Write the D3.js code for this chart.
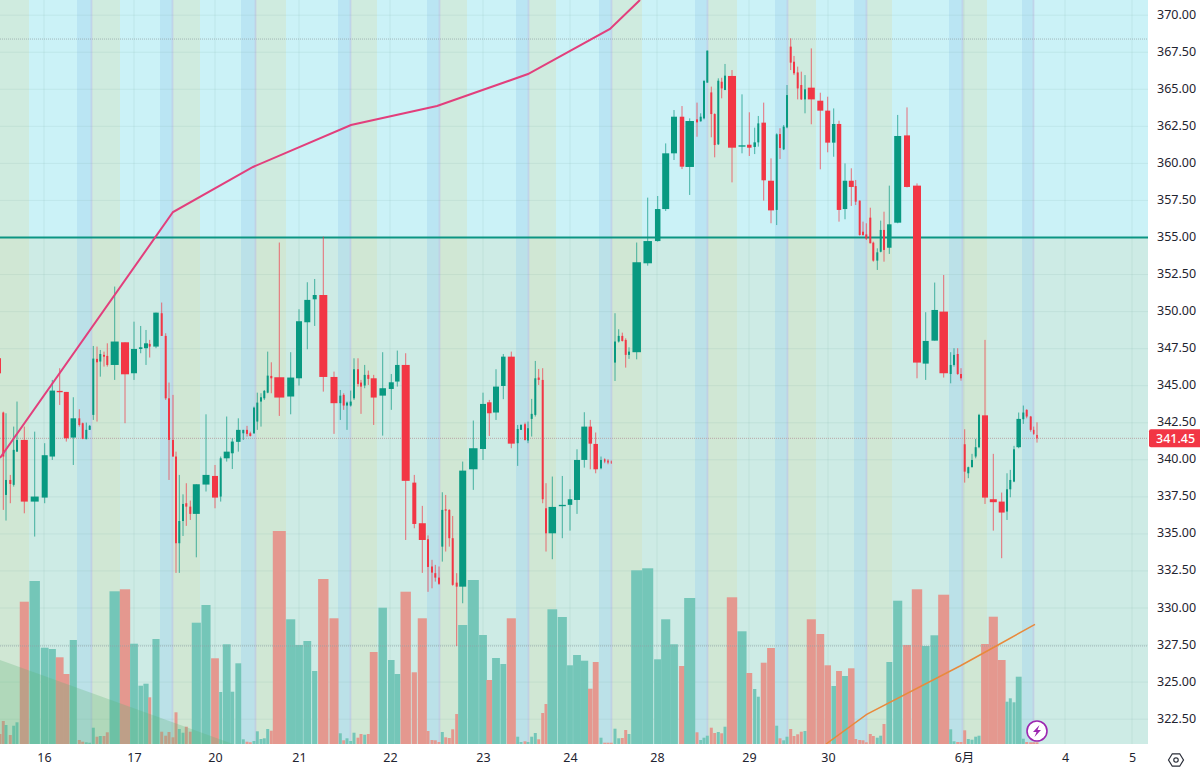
<!DOCTYPE html>
<html><head><meta charset="utf-8">
<script src="https://cdnjs.cloudflare.com/ajax/libs/d3/7.8.5/d3.min.js"></script>
<style>html,body{margin:0;padding:0;background:#fff}svg{display:block}text{font-family:"Noto Sans","Noto Sans CJK SC",sans-serif}</style>
</head><body><div id="c"></div>
<script>
// bar time position on the (non-uniform) session axis
const centres=[0,3.3,6,10.3,13.7,17,24.3,34.7,44.7,52.3,
59.7,66.3,73.3,79.3,82.7,86.3,89.7,93.3,97,100.3,
104,107.3,114.7,125,134,140.7,146,149.7,156,161.7,
165.7,169,173,176,179.3,183,186.3,190.3,196.3,206,
215,220.7,226.7,232.3,238.3,243.3,247,250.3,254,257.3,
261,264.3,267.7,271.3,279.3,290.7,299,307.3,314.7,323.3,
334,340.3,343.7,347,350.7,354,358,361,364.7,368.3,
373.7,382.7,391.3,397.3,405.7,414.3,422.3,428,432,435.3,
439,442.3,445.7,449.3,452.7,456.7,462.7,473.3,483,489.3,
496,503.3,511.3,517.7,521,525,528,531.7,535.3,538.7,
542.7,546,552.3,562.3,570,577,584.3,590.3,595.7,601,
604.7,608,611.3,615,618.7,622.3,625.7,629,636.7,647.7,
657.7,665.7,674,682,689.7,697,700.7,704,707.3,711.3,
714.7,718.3,721.7,725,732,742,749.3,754.7,758.3,763.7,
771,776.7,780,783.7,787,790.7,794,797.7,801.3,805,
811.3,820.3,827.7,833.7,839,845,851.3,855.7,859.7,863,
866.3,870.3,873.3,877.3,880.7,884,889.3,897.7,907,917,
925.7,934.7,943.7,950.7,954,957.7,961,964.7,968.3,972,
975.7,979,985,993.3,1001.7,1007,1010.3,1014,1018.7,1023.3,
1026.7,1030.7,1033.7,1037];
const spans=[2,2,2,2,2,2,7,8,6,5.5,
6,5,5.5,2,2,2,2,2,2,2,
2,2,8,8,6,3.5,4,2,5.5,2,
2,2,2,2,2,2,2,2,7,7,
6,2,6,3,4.5,2,2,2,2,2,
2,2,2,2,10,7,6,6,4,8,
7,2,2,2,2,2,2,2,2,2,
6,6.5,5,4.5,8,4,7,2,2,2,
2,2,2,2,2,2,7,8.5,6,4.5,
6,4.5,7,2,2,2,2,2,2,2,
2,2,7.5,7,4.5,6,6,3.5,4.5,2,
1.5,1.5,1,2,2,2,2,2,8.5,8.5,
5.5,7,6,4.5,8.5,2,2,2,2,2,
2,2,2,2,8,7,4.5,2.5,2,4.5,
6,2,2,2,2,2,2,2,2,2,
7,6,5,3.5,4.5,4.5,5,2,2,2,
2,2,2,2,2,2,4.5,7,6,8,
6,6.5,8.5,2,2,2,2,2,2,2,
2,2,6,7,6,2,2,2,4.5,2,
2,2,1.5,1.5];
const direction="dduduuduuu"+"ddudduuudu"+"dduduuudud"+"dddduudduu"+"duuuuudduu"+"uuudduuuud"+"duduuuddud"+"duuudddddd"+"dudddduuud"+"uuduuduuud"+"dduuuuuddu"+"ddduudduuu"+"uuududuuud"+"dudududuud"+"duduuddddu"+"dddududddd"+"ddduuduudd"+"uuduuddduu"+"uuddduuuuu"+"dddd";
const bodyTops=[346.85,343.19,338.64,338.64,340.67,341.34,341.34,337.52,340.31,344.67,
344.65,344.58,342.80,342.80,342.47,342.02,342.29,346.83,346.81,347.14,
347.08,347.01,347.98,347.93,347.48,347.59,347.86,347.82,349.93,349.89,
348.36,344.15,341.34,340.22,335.87,337.02,337.07,336.84,338.35,338.98,
338.91,340.10,340.55,341.23,342.02,342.02,342.02,341.79,343.52,343.86,
344.22,344.65,345.68,345.66,345.57,345.55,349.35,350.79,351.12,351.12,
345.59,344.33,344.38,343.86,343.93,346.11,346.11,345.21,345.73,345.73,
345.50,344.83,345.23,346.40,346.40,338.46,335.72,334.64,332.80,332.35,
332.05,336.62,336.66,336.62,334.71,331.71,339.27,340.78,343.77,343.88,
344.94,346.96,346.96,342.08,342.35,342.40,342.13,343.10,345.50,345.55,
345.39,336.73,336.82,336.96,337.34,339.99,342.24,342.24,341.07,339.99,
340.04,339.95,339.88,347.98,348.36,348.36,348.09,347.30,353.33,354.76,
356.92,360.68,363.15,363.15,362.86,362.97,363.15,365.56,367.61,364.79,
363.33,365.58,365.51,365.92,365.90,361.22,361.26,361.42,362.70,362.75,
358.83,361.96,361.98,362.48,364.61,367.88,366.86,366.14,365.29,365.00,
365.11,364.23,363.56,362.66,362.66,358.83,358.83,358.47,357.49,355.39,
355.21,356.34,354.65,354.00,355.51,355.51,355.89,361.85,361.89,358.50,
348.02,350.11,350.00,346.40,347.08,347.14,345.79,341.05,339.50,339.99,
340.85,343.03,343.00,337.34,337.18,338.01,338.64,340.71,342.76,343.19,
343.37,342.92,342.02,341.68];
const bodyBottoms=[345.84,340.22,337.63,338.37,338.31,340.55,337.18,337.18,337.45,340.22,
344.56,341.45,341.50,342.35,341.41,341.39,342.02,343.03,346.58,346.63,
346.96,346.40,346.40,345.77,345.84,347.48,347.53,347.64,347.64,348.36,
344.15,341.34,340.22,334.37,334.37,335.87,336.84,336.35,336.35,338.33,
337.45,337.52,340.10,340.44,341.21,341.79,341.75,341.61,341.79,342.58,
343.93,344.15,344.53,345.50,344.20,344.27,345.50,349.28,350.83,345.59,
343.82,343.82,343.66,343.66,343.66,344.15,345.12,344.94,345.01,345.46,
344.20,344.33,344.78,345.28,338.58,335.67,334.59,332.77,332.39,332.05,
331.63,334.14,336.57,334.71,331.56,331.44,331.44,339.36,340.73,343.14,
343.19,344.98,341.09,341.12,342.02,341.34,341.30,342.76,343.03,345.39,
337.34,335.04,335.04,336.87,336.96,337.29,339.99,341.09,339.36,339.43,
339.88,339.81,339.81,346.56,347.98,348.02,347.08,347.08,347.26,353.26,
354.76,356.92,360.68,359.78,359.76,362.77,362.84,363.04,365.45,363.33,
361.24,361.29,365.06,364.95,361.06,361.13,361.06,361.11,361.42,358.86,
356.83,356.86,361.04,360.95,362.43,366.80,366.08,365.06,364.32,364.32,
364.32,363.56,361.40,361.40,356.86,356.92,358.41,357.42,355.17,355.17,
354.94,354.61,353.44,353.44,354.04,354.16,354.31,356.00,358.41,346.56,
346.49,348.04,345.84,345.79,346.40,345.79,345.50,339.20,339.09,339.50,
340.22,340.85,337.45,337.14,336.44,336.51,338.01,338.53,340.85,342.74,
342.92,342.02,341.75,341.45];
const highs=[346.85,343.25,343.14,338.98,342.24,343.93,342.24,341.90,341.12,345.39,
346.18,344.58,344.22,343.41,342.51,342.51,342.35,347.68,347.64,347.41,
347.30,347.86,351.69,347.93,349.32,349.03,348.76,348.09,349.93,350.61,
348.54,345.21,344.38,340.55,338.98,337.67,338.42,337.25,338.35,343.07,
339.65,340.22,342.92,341.45,342.80,342.02,342.29,341.90,343.59,344.53,
344.49,344.71,347.30,346.58,354.66,347.26,350.16,351.98,352.20,355.06,
345.95,344.71,344.49,343.93,344.67,346.85,346.85,345.39,346.40,346.02,
345.73,347.26,345.79,347.37,347.19,338.98,336.89,334.90,333.25,332.91,
332.80,337.81,337.63,336.66,336.21,332.35,339.88,342.65,344.53,344.04,
346.11,347.14,347.30,342.35,342.40,342.51,342.58,344.11,346.67,346.13,
346.18,338.42,338.87,338.91,338.01,340.71,343.21,342.69,341.84,340.22,
340.10,340.04,339.95,349.89,348.81,348.58,348.20,347.59,354.66,357.69,
357.80,361.35,363.60,363.87,363.04,364.10,363.38,365.63,367.61,365.18,
363.38,365.74,365.78,366.71,366.30,364.66,363.45,362.41,363.20,364.10,
360.34,362.03,362.37,362.59,365.29,368.44,367.25,366.53,366.19,365.96,
367.76,364.77,364.50,363.71,362.88,360.00,359.67,358.88,357.49,356.07,
355.96,357.01,354.72,354.27,356.14,356.74,358.50,363.27,363.78,358.65,
349.96,351.96,352.47,347.26,347.53,347.53,346.18,342.06,339.54,340.40,
341.41,343.10,348.09,340.40,337.79,339.09,339.32,340.94,343.19,343.66,
343.41,342.96,342.24,342.53];
const lows=[345.84,336.62,335.90,337.07,338.19,340.55,336.39,334.82,337.07,339.99,
343.70,341.23,339.65,342.24,341.39,341.39,342.02,342.69,342.58,345.61,
346.29,346.29,345.39,342.47,345.39,347.19,346.40,346.90,347.53,348.36,
344.04,338.64,340.22,332.37,332.37,334.86,335.54,335.94,333.42,337.86,
336.73,337.18,339.88,339.38,340.55,341.34,341.57,341.57,341.75,342.02,
342.24,344.04,344.49,344.49,342.96,343.07,345.01,347.46,349.03,344.60,
341.75,342.69,343.37,342.02,343.59,344.04,344.94,343.10,344.83,345.05,
342.35,341.63,343.37,344.94,334.59,335.38,332.37,331.09,331.33,331.78,
331.56,333.13,333.81,334.14,331.50,327.44,330.32,337.97,339.99,341.61,
342.69,344.09,340.78,339.59,342.02,341.30,341.12,341.57,342.92,345.05,
337.07,333.81,333.29,334.71,335.22,336.35,339.47,339.36,339.09,339.36,
339.77,339.70,339.72,345.32,347.91,347.98,346.22,346.81,346.78,353.10,
354.72,356.79,360.23,359.62,357.87,361.80,362.82,362.97,365.45,361.76,
360.41,361.24,364.39,364.95,358.72,360.68,360.50,360.63,361.13,357.49,
355.96,355.84,360.30,360.90,362.37,366.30,365.96,364.32,364.28,363.38,
362.64,359.60,360.75,360.45,356.07,356.23,357.13,357.19,355.12,355.12,
354.83,354.61,353.37,352.81,354.00,353.37,353.89,355.96,358.38,345.50,
345.39,348.04,345.55,345.16,346.29,345.73,345.34,338.46,338.76,339.50,
340.10,340.78,337.02,335.22,333.36,335.94,337.47,338.49,340.78,342.42,
342.80,341.90,341.68,341.16];
const volumes=[10,23,19,9,18.3,21.7,142.3,163,96.3,95,
86.7,70,104,4,2.3,1.7,1.3,16.3,7.3,8,
8,11.7,152.7,154.7,100.3,58.3,60.3,46.7,105,12.3,
8.3,12,6.7,31.7,15,11.3,17.3,12.3,121.3,139,
85.7,52,99.7,52.3,80.7,4.7,2.3,1.7,3,12.7,
5,5.7,15,13.3,213,124.7,99,103,73,165,
125.7,10.7,3.7,5.7,3,11.3,6.3,10,9.3,10,
92,136.3,84,70,152.3,71.7,125.7,13,4,3.7,
2,12,6.7,6,14.7,30,119,164,109,64,
86,80,125.7,7.3,2,2.7,2,7.3,11,4.7,
31,40,134.7,127,78.7,89,83.3,55.3,82,6.3,
1.3,1.3,1.3,15.3,5.7,6,14,10,173.7,175.7,
84.7,124.7,99.7,78,146,11.7,4,6.3,8.3,16.3,
11,12,10.7,17.3,146.7,112.7,71,55,47.3,81.3,
96,18.3,5.7,3.7,7.3,15,8,9.7,12.3,13,
124.7,110,78.7,58,73,68,75.7,5,4,3.7,
1.7,10,8,6.3,8.3,20,82,143.3,99,154.7,
98,108.7,149.3,14.7,2.7,2,2,13.7,5,4.3,
7.3,8.3,100,127.3,84,42.3,45.7,41.7,67.3,5.3,
2,1.7,1.7,1.7];
const priceTicks=d3.range(322.5,370.01,2.5);
const timeTickPos=[44,134,215,299,390,483,570,657,749,828,964,1065,1132];
const timeTickText=["16","17","20","21","22","23","24","28","29","30","6月","4","5"];
const maPos=[0,173,253,351,437,528,610,640];
const maValues=[340.12,356.72,359.76,362.59,363.87,366.03,369.07,371.03];
const volMaPos=[826,866.7,960,998,1035];
const volMaValues=[0,29.7,78,99,119.7];
const wedgePos=[0,233];
const wedgeValues=[84,0];
const blueBands=[[77,92],[160,173],[241,256],[338,351],[427,440],[516,529],[599,612],[695,708],[775,788],[854,867],[949,963],[1022,1034]];
const greenBands=[[0,29],[92,120],[173,200],[255,286],[351,377],[440,467],[529,556],[612,642],[708,737],[788,816],[867,892],[963,987]];
const levelPrice=355, lastPrice=341.45, dottedLevels=[368.39,327.44];

const W=1200,H=772,plotR=1148,plotB=744;
const svg=d3.select("#c").append("svg").attr("width",W).attr("height",H);
const x=d3.scaleLinear().domain([0,1148]).range([0,plotR]);
const y=d3.scaleLinear().domain([355,370]).range([237.5,237.5-15*14.82]);
const v=d3.scaleLinear().domain([0,100]).range([plotB,plotB-100]);

svg.append("defs").append("clipPath").attr("id","plot").append("rect").attr("width",plotR).attr("height",plotB);
const g=svg.append("g").attr("clip-path","url(#plot)");

// backgrounds
g.append("rect").attr("width",plotR).attr("height",y(levelPrice)).attr("fill","#cbf2f7");
g.append("rect").attr("y",y(levelPrice)).attr("width",plotR).attr("height",plotB-y(levelPrice)).attr("fill","#cdebe5");
g.selectAll(".gb").data(greenBands).join("rect").attr("x",d=>x(d[0])).attr("width",d=>x(d[1])-x(d[0])).attr("height",plotB).attr("fill","#d4e2bc").attr("opacity",.4);
g.selectAll(".bb").data(blueBands).join("rect").attr("x",d=>x(d[0])).attr("width",d=>x(d[1])-x(d[0])).attr("height",plotB).attr("fill","#a0d2ee").attr("opacity",.4);
g.selectAll(".bl").data(blueBands).join("rect").attr("x",d=>x(d[1])-1.5).attr("width",2).attr("height",plotB).attr("fill","#c5bfe0").attr("opacity",.45);

// grid
g.selectAll(".hg").data(priceTicks).join("line").attr("x1",0).attr("x2",plotR).attr("y1",d=>y(d)).attr("y2",d=>y(d)).attr("stroke","#7aa9a6").attr("stroke-opacity",.14);
g.selectAll(".vg").data(timeTickPos).join("line").attr("x1",d=>x(d)).attr("x2",d=>x(d)).attr("y1",0).attr("y2",plotB).attr("stroke","#7aa9a6").attr("stroke-opacity",.14);

// volume
const idx=d3.range(centres.length);
const isUp=i=>direction[i]==="u";
g.selectAll(".vol").data(idx).join("rect")
 .attr("x",i=>x(centres[i])-Math.max(3,spans[i]*1.3)/2)
 .attr("width",i=>Math.max(3,spans[i]*1.3))
 .attr("y",i=>v(volumes[i])).attr("height",i=>plotB-v(volumes[i]))
 .attr("fill",i=>isUp(i)?"#74c6b8":"#e4988f");

// wedge
g.append("path").datum(wedgePos.map((p,i)=>[p,wedgeValues[i]]))
 .attr("d",d3.area().x(d=>x(d[0])).y0(plotB).y1(d=>v(d[1])))
 .attr("fill","#5fb578").attr("opacity",.28);

// dotted levels
g.selectAll(".dl").data(dottedLevels).join("line").attr("x1",0).attr("x2",plotR).attr("y1",d=>y(d)).attr("y2",d=>y(d))
 .attr("stroke","#8f9ea3").attr("stroke-opacity",.7).attr("stroke-dasharray","1 1");
g.append("line").attr("x1",0).attr("x2",plotR).attr("y1",y(lastPrice)).attr("y2",y(lastPrice))
 .attr("stroke","#b9a5a5").attr("stroke-dasharray","1 1");

// 355 level
g.append("line").attr("x1",0).attr("x2",plotR).attr("y1",y(levelPrice)).attr("y2",y(levelPrice)).attr("stroke","#0c9583").attr("stroke-width",2);

// candles
g.selectAll(".wick").data(idx).join("line")
 .attr("x1",i=>x(centres[i])).attr("x2",i=>x(centres[i]))
 .attr("y1",i=>y(highs[i])).attr("y2",i=>y(lows[i]))
 .attr("stroke",i=>isUp(i)?"#089981":"#f23645").attr("stroke-width",1).attr("stroke-opacity",.7);
g.selectAll(".body").data(idx).join("rect")
 .attr("x",i=>x(centres[i])-spans[i]/2).attr("width",i=>spans[i])
 .attr("y",i=>y(bodyTops[i])).attr("height",i=>Math.max(1,y(bodyBottoms[i])-y(bodyTops[i])))
 .attr("fill",i=>isUp(i)?"#089981":"#f23645");

// moving averages
g.append("path").datum(maPos.map((p,i)=>[p,maValues[i]]))
 .attr("d",d3.line().x(d=>x(d[0])).y(d=>y(d[1]))).attr("fill","none").attr("stroke","#e23f7c").attr("stroke-width",2);
g.append("path").datum(volMaPos.map((p,i)=>[p,volMaValues[i]]))
 .attr("d",d3.line().x(d=>x(d[0])).y(d=>v(d[1]))).attr("fill","none").attr("stroke","#e88a3c").attr("stroke-width",1.5);

// axes
const yAxis=d3.axisRight(y).tickValues(priceTicks).tickFormat(d3.format(".2f")).tickSize(0).tickPadding(9);
const ya=svg.append("g").attr("transform",`translate(${plotR},-1)`).call(yAxis);
ya.select(".domain").remove();
ya.selectAll("text").attr("fill","#1f2430").style("font-size","12.5px").style("font-family",'"Noto Sans",sans-serif');
const xAxis=d3.axisBottom(x).tickValues(timeTickPos).tickFormat((d,i)=>timeTickText[i]).tickSize(0).tickPadding(9);
const xa=svg.append("g").attr("transform",`translate(0,${plotB})`).call(xAxis);
xa.select(".domain").remove();
xa.selectAll("text").attr("fill","#1f2430").style("font-size","12.5px").style("font-family",'"Noto Sans","Noto Sans CJK SC",sans-serif');

// last price tag
const tagY=y(lastPrice);
svg.append("rect").attr("x",plotR+1).attr("y",tagY-9).attr("width",W-plotR+4).attr("height",18).attr("rx",2).attr("fill","#f23645");
svg.append("text").attr("x",plotR+8).attr("y",tagY+4.5).attr("fill","#fff").style("font-size","12.5px").style("font-weight",500).text(lastPrice.toFixed(2));

// lightning badge
const b=svg.append("g").attr("transform",`translate(1037,731)`);
b.append("circle").attr("r",10).attr("fill","#fff").attr("stroke","#9c27b0").attr("stroke-width",1.6);
b.append("path").attr("d","M2.5,-6 L-4,1 L-0.5,1 L-2.5,6 L4,-1 L0.5,-1 Z").attr("fill","#9c27b0");

// settings icon
const s=svg.append("g").attr("transform","translate(1176,760)").attr("fill","none").attr("stroke","#2a2e39").attr("stroke-width",1.2);
s.append("path").attr("d","M-7.5,0 L-3.7,-6.2 L3.7,-6.2 L7.5,0 L3.7,6.2 L-3.7,6.2 Z");
s.append("circle").attr("r",2.2);
</script></body></html>
